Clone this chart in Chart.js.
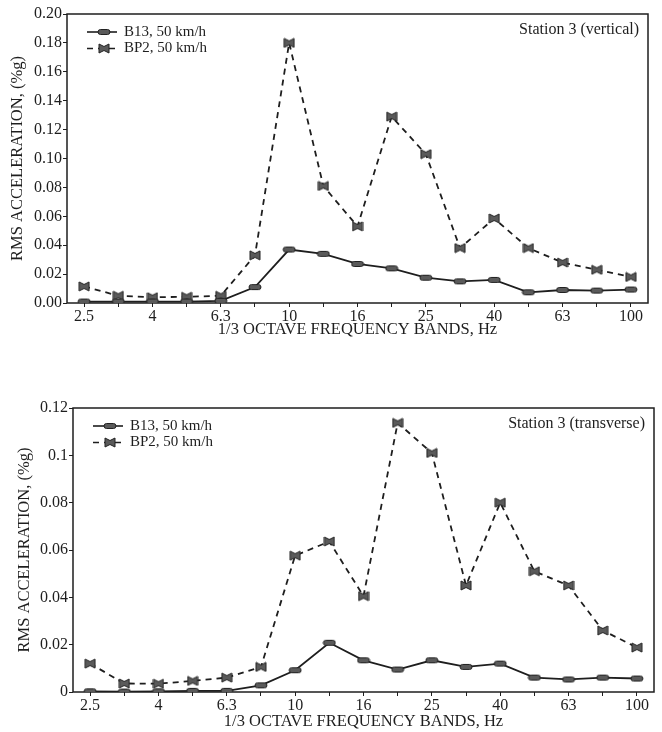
<!DOCTYPE html>
<html><head><meta charset="utf-8">
<script src="https://cdn.jsdelivr.net/npm/chart.js@4.4.0/dist/chart.umd.min.js"></script>
<style>
html,body{margin:0;padding:0;background:#fff;overflow:hidden;}
#w1{position:absolute;left:0;top:0;width:662px;height:340px;}
#w2{position:absolute;left:0;top:390px;width:662px;height:342px;}
</style></head><body>
<div id="w1"><canvas id="c1"></canvas></div>
<div id="w2"><canvas id="c2"></canvas></div>
<script>
const bands = ['2.5','3.15','4','5','6.3','8','10','12.5','16','20','25','31.5','40','50','63','80','100'];
const seriesNames = ['B13, 50 km/h', 'BP2, 50 km/h'];
const vertB13 = [0.001,0.001,0.001,0.001,0.0015,0.011,0.037,0.034,0.027,0.024,0.0175,0.015,0.016,0.0074,0.009,0.0086,0.0093];
const vertBP2 = [0.0115,0.005,0.004,0.0043,0.005,0.033,0.180,0.081,0.053,0.129,0.103,0.038,0.0585,0.038,0.028,0.023,0.018];
const transB13 = [0.0003,0.0002,0.0003,0.0005,0.0005,0.0028,0.0092,0.0208,0.0134,0.0095,0.0134,0.0106,0.012,0.0061,0.0053,0.0061,0.0057];
const transBP2 = [0.012,0.0036,0.0035,0.0047,0.0061,0.0106,0.0576,0.0636,0.0405,0.1137,0.101,0.045,0.080,0.051,0.045,0.026,0.0188];
const xTitle = '1/3 OCTAVE FREQUENCY BANDS, Hz';
const yTitle = 'RMS ACCELERATION, (%g)';
const stationVert = 'Station 3 (vertical)';
const stationTrans = 'Station 3 (transverse)';

const FONT = "'Liberation Serif', 'Times New Roman', serif";
const INK = '#1e1e1e';

function rectMarker(){
  const c=document.createElement('canvas'); c.width=14; c.height=8;
  const x=c.getContext('2d');
  x.fillStyle='#5a5a5a'; x.strokeStyle='#222'; x.lineWidth=1;
  x.beginPath();
  if (x.roundRect) x.roundRect(1,1.5,12,5,2.5); else x.rect(1,1.5,12,5);
  x.fill(); x.stroke();
  return c;
}
function bowMarker(){
  const c=document.createElement('canvas'); c.width=12; c.height=11;
  const x=c.getContext('2d');
  x.fillStyle='#5a5a5a'; x.strokeStyle='#222'; x.lineWidth=1;
  x.beginPath();
  x.moveTo(1,1); x.lineTo(6,3.5); x.lineTo(11,1); x.lineTo(11,10); x.lineTo(6,7.5); x.lineTo(1,10); x.closePath();
  x.fill(); x.stroke();
  return c;
}
const mRect = rectMarker();
const mBow = bowMarker();

const framePlugin = {
  id:'frame',
  beforeDatasetsDraw(chart){
    const {ctx, chartArea:a} = chart;
    ctx.save();
    ctx.strokeStyle=INK; ctx.lineWidth=1.5;
    ctx.strokeRect(a.left,a.top,a.right-a.left,a.bottom-a.top);
    ctx.restore();
  },
  afterDraw(chart, args, opts){
    const {ctx, chartArea:a} = chart;
    ctx.save();
    chart.data.datasets.forEach((ds,i)=>{
      const y = a.top + 18 + i*16.5;
      const x0 = a.left + 20, x1 = a.left + 50;
      ctx.strokeStyle=INK; ctx.lineWidth=1.6;
      ctx.setLineDash(ds.borderDash||[]);
      ctx.beginPath(); ctx.moveTo(x0,y); ctx.lineTo(x1,y); ctx.stroke();
      ctx.setLineDash([]);
      const img = ds.pointStyle;
      ctx.drawImage(img, (x0+x1)/2 - img.width/2 + 2, y - img.height/2);
      ctx.fillStyle=INK; ctx.font = "15px " + FONT;
      ctx.textAlign='left'; ctx.textBaseline='middle';
      ctx.fillText(ds.label, a.left + 57, y);
    });
    ctx.font = "16px " + FONT; ctx.textAlign='right'; ctx.textBaseline='middle';
    ctx.fillStyle=INK;
    ctx.fillText(opts.station, a.right - 9, a.top + 16);
    ctx.restore();
  }
};

function makeChart(id, b13, bp2, yMax, fmt, station, g){
  const tickFont = {family:FONT, size:16};
  const titleFont = {family:FONT, size:16.5};
  return new Chart(document.getElementById(id), {
    type:'line',
    data:{labels:bands, datasets:[
      {label:seriesNames[0], data:b13, borderColor:INK, borderWidth:1.8, pointStyle:mRect, pointRadius:6, fill:false, tension:0},
      {label:seriesNames[1], data:bp2, borderColor:INK, borderWidth:1.8, borderDash:[6,5], pointStyle:mBow, pointRadius:6, fill:false, tension:0}
    ]},
    options:{
      responsive:true, maintainAspectRatio:false, animation:false,
      layout:{padding:{left:0, right:g.right, top:g.top, bottom:g.bottom}},
      plugins:{legend:{display:false}, tooltip:{enabled:false}, frame:{station:station}},
      scales:{
        x:{
          offset:true,
          grid:{display:true, drawOnChartArea:false, drawTicks:true, tickLength:4, color:INK, lineWidth:1},
          border:{display:false},
          ticks:{autoSkip:false, maxRotation:0, minRotation:0, padding:0, color:INK, font:tickFont,
            callback:(v,i)=> i%2===0 ? bands[i] : ''},
          title:{display:true, text:xTitle, color:INK, font:titleFont, padding:{top:0,bottom:0}},
          afterFit:(s)=>{ s.height = g.xh; }
        },
        y:{
          min:0, max:yMax,
          grid:{display:true, drawOnChartArea:false, drawTicks:true, tickLength:4, color:INK, lineWidth:1},
          border:{display:false},
          ticks:{stepSize:0.02, padding:1, color:INK, font:tickFont, callback:fmt},
          title:{display:true, text:yTitle, color:INK, font:titleFont, padding:{top:g.ytp,bottom:0}},
          afterFit:(s)=>{ s.width = g.yw; }
        }
      }
    },
    plugins:[framePlugin]
  });
}

makeChart('c1', vertB13, vertBP2, 0.20, (v)=>Number(v).toFixed(2), stationVert,
  {right:14, top:14, bottom:0, xh:37, yw:67, ytp:8});
makeChart('c2', transB13, transBP2, 0.12, (v)=>String(Number(Number(v).toFixed(2))), stationTrans,
  {right:8, top:18, bottom:0, xh:40, yw:73, ytp:15});
</script>
</body></html>
